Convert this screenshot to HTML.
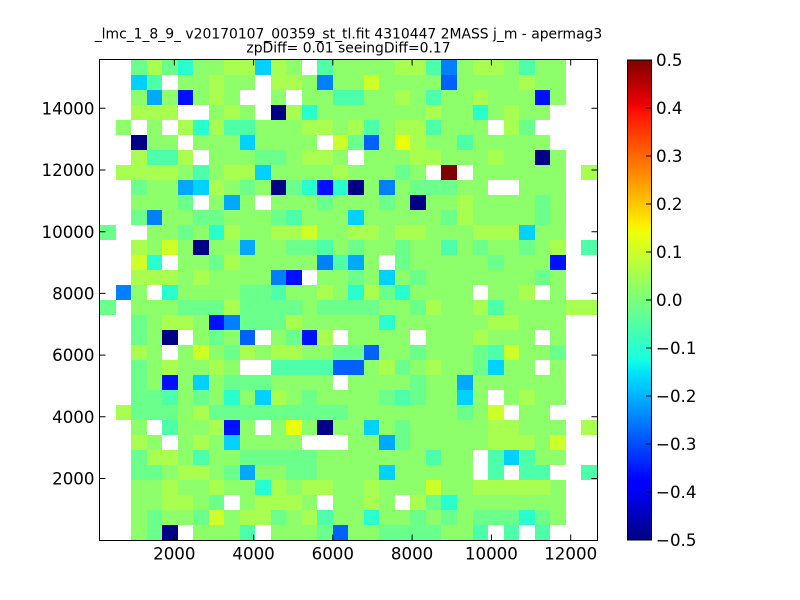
<!DOCTYPE html>
<html><head><meta charset="utf-8"><style>
body{margin:0;width:800px;height:600px;background:#fff;position:relative;overflow:hidden}
#g{position:absolute;left:100px;top:60px;width:496.7px;height:480.5px;display:grid;grid-template-columns:repeat(32,1fr);grid-template-rows:repeat(32,1fr)}
#g i{display:block;background:#8cff6b}
#g .w{background:#fff}
#g .a{background:#a8ff50}
#g .y{background:#cdff29}
#g .k{background:#eaff0c}
#g .t{background:#6bff8c}
#g .s{background:#4effa9}
#g .c{background:#29ffce}
#g .q{background:#00d1ff}
#g .b{background:#00a8ff}
#g .v{background:#0080ff}
#g .u{background:#0061ff}
#g .d{background:#000fff}
#g .n{background:#000086}
#g .r{background:#800000}
svg{position:absolute;left:0;top:0}
</style></head><body>
<div id="g">
<i class=w></i><i class=w></i><i class=t></i><i class=a></i><i class=t></i><i class=c></i><i></i><i></i><i class=a></i><i class=a></i><i class=q></i><i class=a></i><i></i><i class=w></i><i class=s></i><i></i><i></i><i></i><i></i><i class=a></i><i class=a></i><i class=s></i><i class=v></i><i></i><i class=a></i><i class=a></i><i></i><i class=s></i><i></i><i></i><i class=w></i><i class=w></i>
<i class=w></i><i class=w></i><i class=q></i><i class=s></i><i class=w></i><i></i><i></i><i class=a></i><i></i><i></i><i class=w></i><i class=a></i><i class=a></i><i></i><i class=v></i><i></i><i></i><i class=y></i><i></i><i></i><i></i><i></i><i class=u></i><i></i><i></i><i></i><i></i><i class=a></i><i></i><i></i><i class=w></i><i class=w></i>
<i class=w></i><i class=w></i><i></i><i class=b></i><i></i><i class=d></i><i></i><i class=a></i><i></i><i class=w></i><i class=w></i><i></i><i class=w></i><i></i><i></i><i class=s></i><i class=s></i><i></i><i></i><i class=a></i><i></i><i class=s></i><i></i><i></i><i class=a></i><i></i><i></i><i></i><i class=d></i><i></i><i class=w></i><i class=w></i>
<i class=w></i><i class=w></i><i class=a></i><i class=a></i><i class=a></i><i class=w></i><i class=w></i><i></i><i class=a></i><i></i><i class=w></i><i class=n></i><i class=a></i><i class=c></i><i></i><i></i><i></i><i></i><i></i><i></i><i></i><i class=a></i><i></i><i></i><i class=c></i><i></i><i class=a></i><i></i><i></i><i class=w></i><i class=w></i><i class=w></i>
<i class=w></i><i></i><i class=w></i><i></i><i class=w></i><i class=a></i><i class=c></i><i class=a></i><i class=s></i><i class=s></i><i></i><i></i><i></i><i class=a></i><i class=a></i><i></i><i class=a></i><i class=s></i><i></i><i class=a></i><i class=a></i><i class=s></i><i></i><i></i><i></i><i class=w></i><i class=a></i><i class=t></i><i class=w></i><i class=w></i><i class=w></i><i class=w></i>
<i class=w></i><i class=w></i><i class=n></i><i></i><i></i><i class=w></i><i></i><i></i><i></i><i class=q></i><i></i><i></i><i></i><i></i><i class=w></i><i class=y></i><i class=t></i><i class=u></i><i></i><i class=k></i><i class=a></i><i></i><i></i><i class=s></i><i></i><i></i><i></i><i></i><i></i><i class=w></i><i class=w></i><i class=w></i>
<i class=w></i><i class=w></i><i class=a></i><i class=s></i><i class=s></i><i class=a></i><i class=w></i><i></i><i></i><i></i><i class=t></i><i class=t></i><i></i><i class=a></i><i class=a></i><i></i><i class=w></i><i></i><i></i><i></i><i class=a></i><i class=a></i><i></i><i></i><i></i><i class=a></i><i></i><i></i><i class=n></i><i></i><i class=w></i><i class=w></i>
<i class=w></i><i class=a></i><i class=a></i><i class=a></i><i class=a></i><i></i><i class=s></i><i></i><i class=a></i><i class=a></i><i class=q></i><i></i><i></i><i></i><i></i><i class=a></i><i></i><i></i><i></i><i class=t></i><i></i><i class=w></i><i class=r></i><i class=w></i><i></i><i></i><i></i><i></i><i></i><i></i><i class=w></i><i class=a></i>
<i class=w></i><i class=w></i><i class=t></i><i></i><i></i><i class=b></i><i class=q></i><i class=a></i><i></i><i class=t></i><i></i><i class=n></i><i class=t></i><i class=c></i><i class=d></i><i class=c></i><i class=n></i><i></i><i class=v></i><i></i><i class=t></i><i class=t></i><i class=t></i><i></i><i></i><i class=w></i><i class=w></i><i></i><i></i><i></i><i class=w></i><i class=w></i>
<i class=w></i><i class=w></i><i></i><i></i><i></i><i class=t></i><i class=w></i><i></i><i class=b></i><i></i><i class=w></i><i></i><i></i><i></i><i class=t></i><i></i><i></i><i></i><i class=t></i><i></i><i class=n></i><i></i><i></i><i class=a></i><i></i><i></i><i></i><i></i><i class=t></i><i></i><i class=w></i><i class=w></i>
<i class=w></i><i class=w></i><i class=t></i><i class=v></i><i></i><i></i><i class=t></i><i class=t></i><i></i><i></i><i></i><i class=t></i><i class=s></i><i></i><i></i><i></i><i class=q></i><i></i><i></i><i></i><i></i><i></i><i class=t></i><i class=a></i><i></i><i></i><i></i><i></i><i class=t></i><i></i><i class=w></i><i class=w></i>
<i class=t></i><i class=w></i><i class=w></i><i></i><i></i><i class=t></i><i></i><i class=c></i><i class=a></i><i></i><i></i><i class=a></i><i class=a></i><i class=y></i><i></i><i></i><i class=a></i><i class=a></i><i></i><i class=a></i><i class=a></i><i></i><i></i><i></i><i class=a></i><i class=a></i><i class=a></i><i class=q></i><i></i><i></i><i class=w></i><i class=w></i>
<i class=w></i><i class=w></i><i class=a></i><i></i><i class=y></i><i></i><i class=n></i><i></i><i></i><i class=b></i><i></i><i></i><i class=t></i><i class=t></i><i class=s></i><i></i><i class=t></i><i></i><i></i><i class=t></i><i></i><i></i><i class=s></i><i></i><i class=t></i><i></i><i></i><i class=t></i><i></i><i class=a></i><i class=w></i><i class=s></i>
<i class=w></i><i class=w></i><i class=y></i><i class=c></i><i class=w></i><i></i><i></i><i class=t></i><i class=a></i><i></i><i></i><i></i><i></i><i></i><i class=v></i><i class=s></i><i class=b></i><i></i><i class=w></i><i class=t></i><i></i><i></i><i></i><i></i><i></i><i class=t></i><i></i><i></i><i></i><i class=d></i><i class=w></i><i class=w></i>
<i class=w></i><i class=w></i><i class=a></i><i class=a></i><i class=a></i><i></i><i class=a></i><i></i><i></i><i></i><i></i><i class=v></i><i class=d></i><i class=w></i><i></i><i></i><i class=t></i><i></i><i class=q></i><i></i><i class=t></i><i></i><i></i><i></i><i></i><i></i><i></i><i></i><i class=t></i><i></i><i class=w></i><i class=w></i>
<i class=w></i><i class=v></i><i></i><i class=w></i><i class=c></i><i></i><i></i><i></i><i></i><i class=t></i><i class=t></i><i class=s></i><i></i><i></i><i class=a></i><i></i><i class=c></i><i class=a></i><i class=t></i><i class=c></i><i></i><i></i><i></i><i></i><i class=w></i><i></i><i></i><i class=a></i><i class=w></i><i></i><i class=w></i><i class=w></i>
<i class=t></i><i class=w></i><i></i><i></i><i></i><i class=t></i><i class=t></i><i class=t></i><i class=a></i><i class=t></i><i class=t></i><i class=t></i><i class=t></i><i></i><i class=t></i><i class=t></i><i class=t></i><i class=t></i><i></i><i></i><i class=t></i><i class=a></i><i></i><i></i><i class=a></i><i class=s></i><i></i><i></i><i></i><i></i><i class=a></i><i class=a></i>
<i class=w></i><i class=w></i><i class=t></i><i></i><i class=a></i><i class=a></i><i></i><i class=d></i><i class=v></i><i class=t></i><i class=t></i><i class=t></i><i class=a></i><i></i><i></i><i></i><i></i><i></i><i class=c></i><i></i><i></i><i></i><i></i><i></i><i></i><i class=a></i><i class=a></i><i></i><i></i><i></i><i class=w></i><i class=w></i>
<i class=w></i><i class=w></i><i class=t></i><i></i><i class=n></i><i class=w></i><i></i><i class=t></i><i></i><i class=u></i><i class=w></i><i></i><i class=t></i><i class=d></i><i class=a></i><i class=w></i><i></i><i></i><i></i><i></i><i class=w></i><i></i><i></i><i></i><i class=a></i><i></i><i></i><i></i><i class=w></i><i></i><i class=w></i><i class=w></i>
<i class=w></i><i class=w></i><i class=a></i><i></i><i class=w></i><i></i><i class=y></i><i></i><i class=t></i><i class=a></i><i></i><i class=a></i><i class=a></i><i></i><i></i><i class=t></i><i class=t></i><i class=u></i><i></i><i></i><i class=t></i><i></i><i></i><i></i><i class=t></i><i class=s></i><i class=y></i><i></i><i></i><i class=t></i><i class=w></i><i class=w></i>
<i class=w></i><i class=w></i><i class=t></i><i></i><i class=a></i><i></i><i></i><i class=a></i><i></i><i class=w></i><i class=w></i><i class=s></i><i class=s></i><i class=s></i><i class=s></i><i class=u></i><i class=u></i><i></i><i class=a></i><i class=t></i><i></i><i class=a></i><i></i><i></i><i class=t></i><i class=q></i><i></i><i></i><i class=w></i><i></i><i class=w></i><i class=w></i>
<i class=w></i><i class=w></i><i class=t></i><i></i><i class=d></i><i></i><i class=q></i><i></i><i class=t></i><i class=t></i><i class=t></i><i></i><i></i><i></i><i></i><i class=w></i><i></i><i></i><i></i><i></i><i class=t></i><i></i><i></i><i class=b></i><i></i><i></i><i></i><i></i><i></i><i></i><i class=w></i><i class=w></i>
<i class=w></i><i class=w></i><i class=t></i><i class=t></i><i class=s></i><i></i><i class=t></i><i></i><i class=c></i><i></i><i class=q></i><i class=a></i><i></i><i class=t></i><i></i><i></i><i></i><i></i><i class=t></i><i class=s></i><i class=t></i><i></i><i></i><i class=q></i><i></i><i class=w></i><i></i><i class=a></i><i></i><i></i><i class=w></i><i class=w></i>
<i class=w></i><i class=a></i><i class=t></i><i class=t></i><i class=t></i><i></i><i class=a></i><i class=t></i><i class=t></i><i class=t></i><i class=t></i><i class=t></i><i class=t></i><i class=t></i><i class=t></i><i class=t></i><i></i><i></i><i></i><i></i><i></i><i></i><i></i><i class=t></i><i></i><i class=y></i><i class=w></i><i></i><i></i><i class=w></i><i class=w></i><i class=w></i>
<i class=w></i><i class=w></i><i></i><i class=w></i><i class=s></i><i></i><i></i><i class=a></i><i class=d></i><i></i><i class=w></i><i></i><i class=k></i><i></i><i class=n></i><i></i><i></i><i class=q></i><i></i><i class=t></i><i></i><i></i><i></i><i></i><i></i><i class=a></i><i class=a></i><i></i><i></i><i></i><i class=w></i><i class=a></i>
<i class=w></i><i class=w></i><i class=a></i><i></i><i class=w></i><i></i><i class=a></i><i></i><i class=q></i><i></i><i></i><i></i><i></i><i class=w></i><i class=w></i><i class=w></i><i></i><i></i><i class=b></i><i class=t></i><i></i><i></i><i></i><i></i><i></i><i class=a></i><i class=a></i><i class=a></i><i></i><i class=y></i><i class=w></i><i class=w></i>
<i class=w></i><i class=w></i><i class=t></i><i class=a></i><i class=a></i><i></i><i class=s></i><i></i><i></i><i class=t></i><i class=t></i><i class=t></i><i class=t></i><i class=t></i><i></i><i></i><i></i><i></i><i></i><i></i><i></i><i class=s></i><i></i><i></i><i class=w></i><i class=s></i><i class=q></i><i class=s></i><i></i><i></i><i class=w></i><i class=w></i>
<i class=w></i><i class=w></i><i class=t></i><i class=t></i><i></i><i class=a></i><i class=a></i><i></i><i class=t></i><i class=b></i><i></i><i></i><i class=t></i><i class=t></i><i></i><i></i><i></i><i></i><i class=q></i><i></i><i></i><i></i><i></i><i></i><i class=w></i><i class=s></i><i class=w></i><i class=s></i><i class=s></i><i class=w></i><i class=w></i><i class=s></i>
<i class=w></i><i class=w></i><i></i><i></i><i class=a></i><i></i><i></i><i class=a></i><i></i><i></i><i class=c></i><i class=a></i><i></i><i class=a></i><i class=a></i><i></i><i></i><i class=a></i><i></i><i></i><i></i><i class=y></i><i></i><i></i><i class=a></i><i class=a></i><i class=a></i><i class=a></i><i class=a></i><i></i><i class=w></i><i class=w></i>
<i class=w></i><i class=w></i><i></i><i></i><i class=a></i><i class=a></i><i></i><i class=t></i><i class=w></i><i></i><i class=a></i><i class=a></i><i class=a></i><i></i><i class=w></i><i></i><i></i><i class=a></i><i></i><i class=w></i><i class=a></i><i class=t></i><i class=c></i><i></i><i></i><i></i><i></i><i></i><i></i><i></i><i class=w></i><i class=w></i>
<i class=w></i><i class=w></i><i></i><i class=t></i><i></i><i></i><i class=t></i><i class=y></i><i></i><i class=a></i><i class=a></i><i class=t></i><i></i><i class=a></i><i class=s></i><i></i><i></i><i class=c></i><i></i><i></i><i class=t></i><i></i><i class=t></i><i></i><i class=t></i><i class=t></i><i class=t></i><i class=c></i><i class=t></i><i></i><i class=w></i><i class=w></i>
<i class=w></i><i class=w></i><i></i><i class=t></i><i class=n></i><i class=w></i><i></i><i></i><i></i><i class=s></i><i class=w></i><i></i><i></i><i></i><i class=t></i><i class=u></i><i></i><i></i><i class=t></i><i class=t></i><i class=t></i><i class=t></i><i></i><i></i><i class=s></i><i class=w></i><i class=s></i><i class=w></i><i class=s></i><i class=w></i><i class=w></i><i class=w></i>
</div>
<svg width="800" height="600" font-family="DejaVu Sans, sans-serif">
<defs>
<linearGradient id="j" x1="0" y1="1" x2="0" y2="0">
<stop offset="0" stop-color="#000080"/>
<stop offset="0.11" stop-color="#0000ff"/>
<stop offset="0.125" stop-color="#0000ff"/>
<stop offset="0.34" stop-color="#00dbff"/>
<stop offset="0.35" stop-color="#00e5f7"/>
<stop offset="0.375" stop-color="#15ffe2"/>
<stop offset="0.5" stop-color="#7bff7b"/>
<stop offset="0.64" stop-color="#eeff08"/>
<stop offset="0.65" stop-color="#f7f500"/>
<stop offset="0.66" stop-color="#ffec00"/>
<stop offset="0.89" stop-color="#ff1300"/>
<stop offset="0.91" stop-color="#e80000"/>
<stop offset="1" stop-color="#800000"/>
</linearGradient>
</defs>
<rect x="99.5" y="59.5" width="498" height="481" fill="none" stroke="#000" stroke-width="1"/>
<path stroke="#000" stroke-width="1" fill="none" d="
M174.3 540 v-5.5 M253.6 540 v-5.5 M332.8 540 v-5.5 M412.1 540 v-5.5 M491.4 540 v-5.5 M570.7 540 v-5.5
M174.3 60 v5.5 M253.6 60 v5.5 M332.8 60 v5.5 M412.1 60 v5.5 M491.4 60 v5.5 M570.7 60 v5.5
M100 478.5 h5.5 M100 416.8 h5.5 M100 355.1 h5.5 M100 293.4 h5.5 M100 231.7 h5.5 M100 170 h5.5 M100 108.3 h5.5
M597 478.5 h-5.5 M597 416.8 h-5.5 M597 355.1 h-5.5 M597 293.4 h-5.5 M597 231.7 h-5.5 M597 170 h-5.5 M597 108.3 h-5.5"/>
<g font-size="16.67" fill="#000" text-anchor="middle">
<text x="174.3" y="559.5">2000</text>
<text x="253.6" y="559.5">4000</text>
<text x="332.8" y="559.5">6000</text>
<text x="412.1" y="559.5">8000</text>
<text x="491.4" y="559.5">10000</text>
<text x="570.7" y="559.5">12000</text>
</g>
<g font-size="16.67" fill="#000" text-anchor="end">
<text x="94.5" y="484.6">2000</text>
<text x="94.5" y="422.9">4000</text>
<text x="94.5" y="361.2">6000</text>
<text x="94.5" y="299.5">8000</text>
<text x="94.5" y="237.8">10000</text>
<text x="94.5" y="176.1">12000</text>
<text x="94.5" y="114.4">14000</text>
</g>
<g font-size="13.9" fill="#000" text-anchor="middle">
<text x="348.5" y="38.3">_lmc_1_8_9_ v20170107_00359_st_tl.fit 4310447 2MASS j_m - apermag3</text>
<text x="348.5" y="52.3">zpDiff= 0.01 seeingDiff=0.17</text>
</g>
<rect x="627.5" y="60" width="24" height="480" fill="url(#j)" stroke="#000" stroke-width="1"/>
<path stroke="#000" stroke-width="1" fill="none" d="M651.5 108 h-5.5 M651.5 156 h-5.5 M651.5 204 h-5.5 M651.5 252 h-5.5 M651.5 300 h-5.5 M651.5 348 h-5.5 M651.5 396 h-5.5 M651.5 444 h-5.5 M651.5 492 h-5.5"/>
<g font-size="16.67" fill="#000">
<text x="656" y="66.1">0.5</text>
<text x="656" y="114.1">0.4</text>
<text x="656" y="162.1">0.3</text>
<text x="656" y="210.1">0.2</text>
<text x="656" y="258.1">0.1</text>
<text x="656" y="306.1">0.0</text>
<text x="656" y="354.1">−0.1</text>
<text x="656" y="402.1">−0.2</text>
<text x="656" y="450.1">−0.3</text>
<text x="656" y="498.1">−0.4</text>
<text x="656" y="546.1">−0.5</text>
</g>
</svg>
</body></html>
